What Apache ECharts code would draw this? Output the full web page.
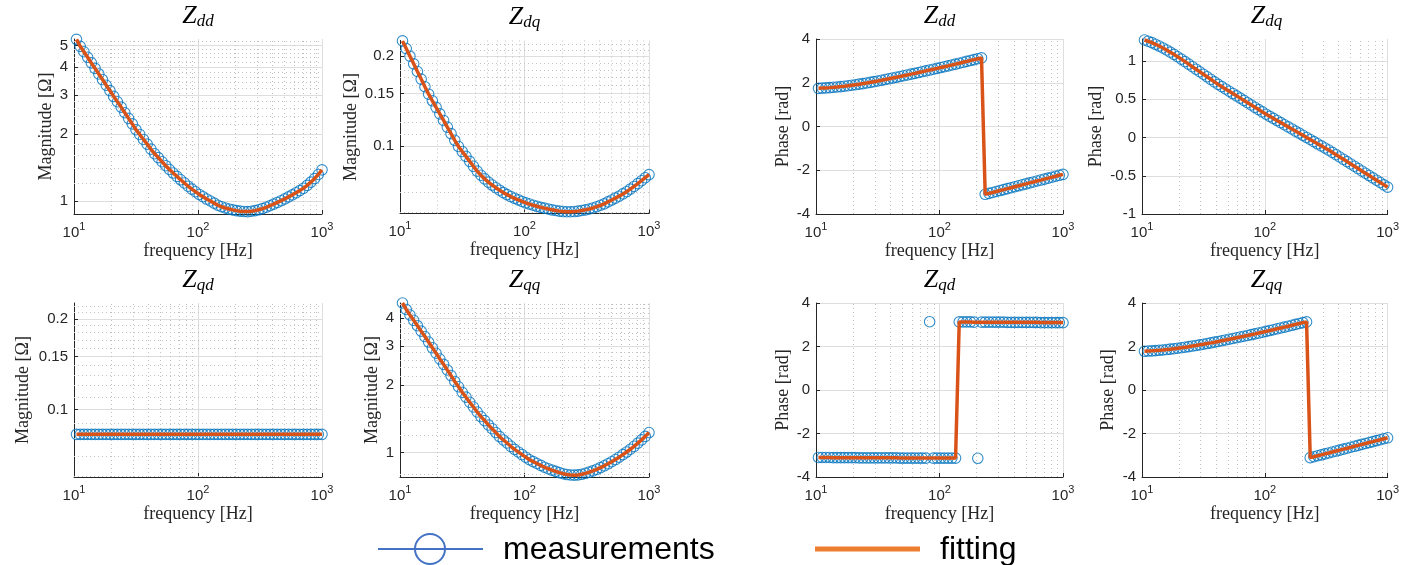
<!DOCTYPE html>
<html><head><meta charset="utf-8">
<script src="https://cdn.jsdelivr.net/npm/echarts@6/dist/echarts.min.js"></script>
<style>html,body{margin:0;padding:0;background:#fff}#c{width:1402px;height:565px}</style>
</head><body><div id="c"></div>
<script>
// frequency points [Hz]
const freq = [10.47,11.22,12.02,12.88,13.80,14.79,15.85,16.98,18.20,19.50,
  20.89,22.39,23.99,25.70,27.54,29.51,31.62,33.88,36.31,38.90,
  41.69,44.67,47.86,51.29,54.95,58.88,63.10,67.61,72.44,77.62,
  83.18,89.13,95.50,102.3,109.6,117.5,125.9,134.9,144.5,154.9,
  166.0,177.8,190.5,204.2,218.8,234.4,251.2,269.2,288.4,309.0,
  331.1,354.8,380.2,407.4,436.5,467.7,501.2,537.0,575.4,616.6,
  660.7,707.9,758.6,812.8,871.0,933.3,1000];

// magnitudes [Ohm]
const zddMag = [5.32,4.95,4.68,4.42,4.17,3.94,3.72,3.51,3.31,3.13,
  2.95,2.79,2.64,2.49,2.35,2.22,2.09,1.99,1.89,1.80,
  1.71,1.63,1.565,1.50,1.44,1.385,1.335,1.29,1.245,1.205,
  1.165,1.13,1.10,1.07,1.045,1.02,1.00,0.978,0.957,0.942,
  0.930,0.920,0.912,0.905,0.900,0.897,0.896,0.899,0.905,0.913,
  0.924,0.937,0.952,0.968,0.985,1.003,1.022,1.043,1.065,1.088,
  1.113,1.14,1.175,1.215,1.26,1.315,1.38];
const zdqMag = [0.225,0.2121,0.2000,0.1886,0.1778,0.1677,0.1581,0.1493,0.1419,0.1349,
  0.1283,0.1220,0.1159,0.1102,0.1047,0.0998,0.0960,0.0925,0.0890,0.0857,
  0.0826,0.0800,0.0778,0.0759,0.0742,0.0727,0.0713,0.0700,0.0689,0.0679,
  0.0670,0.0662,0.0654,0.0647,0.0641,0.0635,0.0630,0.0625,0.0621,0.0617,
  0.0613,0.0610,0.0607,0.0605,0.0604,0.0604,0.0605,0.0607,0.0610,0.0613,
  0.0617,0.0622,0.0628,0.0635,0.0642,0.0652,0.0661,0.0671,0.0681,0.0693,
  0.0705,0.0719,0.0734,0.0750,0.0767,0.0785,0.0804];
const zqdMag = [0.0826,0.0826,0.0826,0.0826,0.0826,0.0826,0.0826,0.0826,0.0826,0.0826,
  0.0826,0.0826,0.0826,0.0826,0.0826,0.0826,0.0826,0.0826,0.0826,0.0826,
  0.0826,0.0826,0.0826,0.0826,0.0826,0.0826,0.0826,0.0826,0.0826,0.0826,
  0.0826,0.0826,0.0826,0.0826,0.0826,0.0826,0.0826,0.0826,0.0826,0.0826,
  0.0826,0.0826,0.0826,0.0826,0.0826,0.0826,0.0826,0.0826,0.0826,0.0826,
  0.0826,0.0826,0.0826,0.0826,0.0826,0.0826,0.0826,0.0826,0.0826,0.0826,
  0.0826,0.0826,0.0826,0.0826,0.0826,0.0826,0.0826];
const zqqMag = [4.66,4.36,4.12,3.90,3.69,3.49,3.30,3.12,2.94,2.78,
  2.62,2.48,2.34,2.21,2.08,1.97,1.86,1.77,1.68,1.60,
  1.52,1.45,1.39,1.33,1.28,1.23,1.18,1.14,1.105,1.068,
  1.035,1.008,0.981,0.955,0.930,0.912,0.895,0.878,0.861,0.848,
  0.836,0.825,0.815,0.806,0.799,0.795,0.794,0.796,0.801,0.809,
  0.819,0.830,0.843,0.858,0.874,0.892,0.911,0.932,0.955,0.980,
  1.007,1.036,1.068,1.103,1.141,1.183,1.230];

// phases [rad]
const zddPh = [1.745,1.755,1.765,1.777,1.791,1.806,1.824,1.843,1.863,1.886,
  1.909,1.935,1.962,1.990,2.019,2.050,2.081,2.113,2.146,2.180,
  2.215,2.250,2.285,2.321,2.357,2.393,2.430,2.467,2.504,2.542,
  2.580,2.618,2.656,2.695,2.734,2.773,2.813,2.853,2.893,2.934,
  2.975,3.016,3.057,3.099,3.135,-3.100,-3.057,-3.014,-2.971,-2.927,
  -2.884,-2.840,-2.797,-2.753,-2.710,-2.666,-2.623,-2.579,-2.536,-2.492,
  -2.449,-2.405,-2.362,-2.318,-2.275,-2.231,-2.188];
const zdqPh = [1.275,1.259,1.240,1.219,1.196,1.171,1.145,1.116,1.087,1.056,
  1.025,0.992,0.959,0.926,0.893,0.860,0.827,0.794,0.761,0.728,
  0.695,0.665,0.635,0.605,0.575,0.545,0.515,0.485,0.455,0.425,
  0.395,0.365,0.335,0.305,0.277,0.250,0.222,0.195,0.167,0.139,
  0.112,0.084,0.057,0.029,0.001,-0.026,-0.054,-0.082,-0.109,-0.137,
  -0.164,-0.194,-0.225,-0.255,-0.285,-0.315,-0.346,-0.376,-0.406,-0.437,
  -0.467,-0.497,-0.528,-0.558,-0.588,-0.619,-0.649];
const zqdPhMeas = [-3.10,-3.10,-3.10,-3.10,-3.11,-3.11,-3.11,-3.11,-3.11,-3.11,
  -3.11,-3.12,-3.12,-3.12,-3.12,-3.12,-3.12,-3.12,-3.12,-3.12,
  -3.12,-3.12,-3.13,-3.13,-3.13,-3.13,-3.13,-3.13,-3.13,-3.13,
  3.14,-3.13,-3.13,-3.13,-3.13,-3.13,-3.13,-3.13,3.13,3.13,
  3.13,3.13,3.12,-3.14,3.12,3.12,3.12,3.12,3.12,3.12,
  3.12,3.11,3.11,3.11,3.11,3.11,3.11,3.11,3.11,3.11,
  3.10,3.10,3.10,3.10,3.10,3.10,3.10];
const zqdPhFit = [-3.10,-3.10,-3.10,-3.10,-3.11,-3.11,-3.11,-3.11,-3.11,-3.11,
  -3.11,-3.12,-3.12,-3.12,-3.12,-3.12,-3.12,-3.12,-3.12,-3.12,
  -3.12,-3.12,-3.13,-3.13,-3.13,-3.13,-3.13,-3.13,-3.13,-3.13,
  -3.13,-3.13,-3.13,-3.13,-3.13,-3.13,-3.13,-3.13,3.13,3.13,
  3.13,3.13,3.12,3.12,3.12,3.12,3.12,3.12,3.12,3.12,
  3.12,3.11,3.11,3.11,3.11,3.11,3.11,3.11,3.11,3.11,
  3.10,3.10,3.10,3.10,3.10,3.10,3.10];
const zqqPh = [1.780,1.790,1.800,1.812,1.826,1.841,1.859,1.878,1.898,1.921,
  1.944,1.968,1.993,2.020,2.047,2.076,2.105,2.136,2.167,2.199,
  2.232,2.266,2.299,2.333,2.367,2.402,2.437,2.472,2.507,2.544,
  2.580,2.618,2.656,2.695,2.734,2.773,2.813,2.853,2.893,2.934,
  2.975,3.016,3.057,3.099,3.131,-3.110,-3.067,-3.024,-2.981,-2.937,
  -2.894,-2.850,-2.807,-2.763,-2.720,-2.676,-2.633,-2.589,-2.546,-2.502,
  -2.459,-2.415,-2.372,-2.328,-2.285,-2.241,-2.198];

// tick labels
const freqTicks = [10, 100, 1000];
const freqMinor = [20,30,40,50,60,70,80,90,200,300,400,500,600,700,800,900];
const magTicksDD = [1,2,3,4,5];
const magMinorDD = [1.2,1.4,1.6,1.8,2.2,2.4,2.6,2.8,3.2,3.4,3.6,3.8,4.2,4.4,4.6,4.8,5.2];
const magTicksSmall = [0.1,0.15,0.2];
const magMinorSmall = [0.06,0.07,0.08,0.09,0.11,0.12,0.13,0.14,0.16,0.17,0.18,0.19,0.21,0.22];
const magTicksQQ = [1,2,3,4];
const magMinorQQ = [0.8,1.2,1.4,1.6,1.8,2.2,2.4,2.6,2.8,3.2,3.4,3.6,3.8,4.2,4.4,4.6];
const phTicks = [-4,-2,0,2,4];
const phTicksDQ = [-1,-0.5,0,0.5,1];
const subs = ['dd','dq','dd','dq','qd','qq','qd','qq'];
const legendNames = ['measurements','fitting'];

const BLUE = '#0072BD', ORANGE = '#D95319', AX = '#262626';
const panels = [
  {g:[74,39,248,175], log:true, min:0.874, max:5.34, ticks:magTicksDD, minor:magMinorDD, name:'Magnitude [Ω]', gap:19, meas:zddMag, fit:zddMag},
  {g:[400,40.5,249,173], log:true, min:0.0596, max:0.2257, ticks:magTicksSmall, minor:magMinorSmall, name:'Magnitude [Ω]', gap:40, meas:zdqMag, fit:zdqMag},
  {g:[816,39,247,175], log:false, min:-4, max:4, ticks:phTicks, minor:[], name:'Phase [rad]', gap:24, meas:zddPh, fit:zddPh},
  {g:[1142,39,249,175], log:false, min:-1, max:1.288, ticks:phTicksDQ, minor:[], name:'Phase [rad]', gap:37, meas:zdqPh, fit:zdqPh},
  {g:[74,303,248,174], log:true, min:0.0596, max:0.2257, ticks:magTicksSmall, minor:magMinorSmall, name:'Magnitude [Ω]', gap:42, meas:zqdMag, fit:zqdMag},
  {g:[400,303,249,174], log:true, min:0.779, max:4.66, ticks:magTicksQQ, minor:magMinorQQ, name:'Magnitude [Ω]', gap:18, meas:zqqMag, fit:zqqMag},
  {g:[816,303,247,174], log:false, min:-4, max:4, ticks:phTicks, minor:[], name:'Phase [rad]', gap:24, meas:zqdPhMeas, fit:zqdPhFit},
  {g:[1142,303,249,174], log:false, min:-4, max:4, ticks:phTicks, minor:[], name:'Phase [rad]', gap:25, meas:zqqPh, fit:zqqPh}
];

const tickFont = {fontFamily:'"Liberation Sans", Arial, sans-serif', fontSize:15, color:AX};
const nameFont = {fontFamily:'"Liberation Serif", "Times New Roman", serif', fontSize:18, color:AX};
const grid = [], xAxis = [], yAxis = [], series = [], title = [];
panels.forEach((p, i) => {
  grid.push({left:p.g[0], top:p.g[1], width:p.g[2], height:p.g[3], containLabel:false});
  title.push({
    text:'{z|Z}{s|' + subs[i] + '}', left:p.g[0] + p.g[2]/2, top:p.g[1] - 36, textAlign:'center', padding:0,
    textStyle:{fontWeight:'normal', rich:{
      z:{fontFamily:'"Liberation Serif", serif', fontStyle:'italic', fontWeight:'normal', fontSize:26, lineHeight:27, verticalAlign:'top', color:'#000'},
      s:{fontFamily:'"Liberation Serif", serif', fontStyle:'italic', fontWeight:'normal', fontSize:17, lineHeight:17, verticalAlign:'bottom', color:'#000'}
    }}
  });
  xAxis.push({
    type:'log', logBase:10, gridIndex:i, min:10, max:1000,
    axisLine:{show:true, onZero:false, lineStyle:{color:AX, width:1}},
    axisTick:{show:true, inside:true, length:4, customValues:freqTicks, lineStyle:{color:AX}},
    axisLabel:{customValues:freqTicks, margin:7,
      formatter: v => '{b|10}{s|' + Math.round(Math.log10(v)) + '}',
      rich:{b:Object.assign({lineHeight:19, verticalAlign:'bottom'}, tickFont),
            s:Object.assign({}, tickFont, {fontSize:11, lineHeight:11, verticalAlign:'top'})}},
    splitLine:{show:true, lineStyle:{color:'#dedede', width:1}},
    name:'frequency [Hz]', nameLocation:'middle', nameGap:28, nameTextStyle:nameFont
  });
  yAxis.push({
    type:p.log ? 'log' : 'value', logBase:10, gridIndex:i, min:p.min, max:p.max,
    axisLine:{show:true, onZero:false, lineStyle:{color:AX, width:1}},
    axisTick:{show:true, inside:true, length:4, customValues:p.ticks, lineStyle:{color:AX}},
    axisLabel:Object.assign({customValues:p.ticks, margin:6, formatter: v => String(v)}, tickFont),
    splitLine:{show:true, lineStyle:{color:'#dedede', width:1}},
    name:p.name, nameLocation:'middle', nameRotate:90, nameGap:p.gap, nameTextStyle:nameFont
  });
  const mlData = freqMinor.map(v => ({xAxis:v})).concat(p.minor.map(v => ({yAxis:v})));
  series.push({
    name:legendNames[0], type:'scatter', xAxisIndex:i, yAxisIndex:i, z:3, silent:true,
    data: freq.map((f, j) => [f, p.meas[j]]),
    symbol:'circle', symbolSize:10.5,
    itemStyle:{color:'rgba(0,0,0,0)', borderColor:BLUE, borderWidth:1.1},
    markLine:{silent:true, z:1, symbol:['none','none'], label:{show:false}, animation:false,
      lineStyle:{color:'#c2c2c2', width:1, type:[1,3]}, emphasis:{disabled:true}, data:mlData}
  });
  series.push({
    name:legendNames[1], type:'line', xAxisIndex:i, yAxisIndex:i, z:4, silent:true,
    data: freq.map((f, j) => [f, p.fit[j]]),
    showSymbol:false, lineStyle:{color:ORANGE, width:3.5}
  });
});

const chart = echarts.init(document.getElementById('c'), null, {renderer:'canvas'});
chart.setOption({
  backgroundColor:'#fff', animation:false,
  title, grid, xAxis, yAxis, series,
  graphic:[
    {type:'line', shape:{x1:378, y1:549, x2:483, y2:549}, style:{stroke:'#4472C4', lineWidth:2}},
    {type:'circle', shape:{cx:430, cy:549, r:15}, style:{stroke:'#4472C4', fill:'none', lineWidth:2}},
    {type:'text', x:503, y:550, style:{text:legendNames[0], font:'32px "Liberation Sans", Arial, sans-serif', fill:'#000', verticalAlign:'middle'}},
    {type:'line', shape:{x1:815, y1:549, x2:920, y2:549}, style:{stroke:'#ED7D31', lineWidth:5}},
    {type:'text', x:940, y:550, style:{text:legendNames[1], font:'32px "Liberation Sans", Arial, sans-serif', fill:'#000', verticalAlign:'middle'}}
  ]
});
</script></body></html>
